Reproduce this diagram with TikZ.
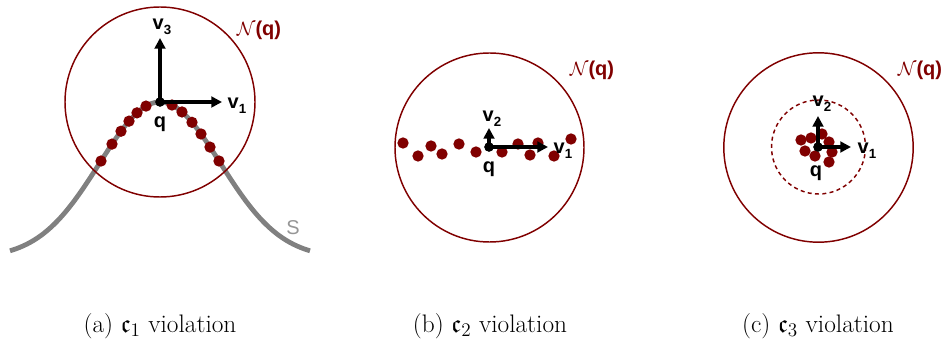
\documentclass[tikz,border=0pt]{standalone}
\usepackage{fontspec}
\setsansfont{Liberation Sans}
\usepackage{amssymb}
\usetikzlibrary{arrows.meta}
\definecolor{nbhd}{RGB}{128,0,0}
\definecolor{surf}{RGB}{128,128,128}
\definecolor{surflabel}{RGB}{150,150,150}
\newcommand{\basisv}[1]{\textbf{v}\raisebox{-0.5ex}{\fontsize{10}{10}\selectfont\textbf{#1}}}
\newcommand{\nbhdq}{$\mathcal{N}$(\textbf{q})}
\begin{document}
\begin{tikzpicture}[x=0.75pt, y=-0.75pt,
    font=\fontsize{15}{17}\selectfont\sffamily\bfseries,
    >={Triangle[length=8pt,width=8pt]},
    ring/.style={draw=nbhd, line width=1.1pt},
    pt/.style={circle, fill=nbhd, inner sep=0pt, minimum size=8.5pt},
    origin/.style={circle, fill=black, inner sep=0pt, minimum size=7pt},
    axis/.style={->, line width=2.5pt},
    caption/.style={font=\fontsize{19}{21}\selectfont\rmfamily\mdseries}]
  \useasboundingbox (0,0) rectangle (946,345);

  % (a) points on a curved surface
  \draw[surf, line width=3.6pt] plot[domain=10:310, samples=90, smooth]
    (\x, {258-156*exp(-((\x-160)/60.5)^2/2)});
  \foreach \x in {101,112,121,129,137,146,172,182,192,201,210,219}
    \node[pt] (pa\x) at (\x, {258-156*exp(-((\x-160)/60.5)^2/2)}) {};
  \draw[ring] (160,102) circle[radius=95];
  \coordinate (a1) at (222,102);
  \coordinate (a3) at (160,38);
  \node[origin] (qa) at (160,102) {};
  \draw[axis] (qa.center) -- (a1);
  \draw[axis] (qa.center) -- (a3);
  \node[origin] at (qa) {};
  \node (la1) at (237,106) {\basisv{1}};
  \node (la3) at (162,27) {\basisv{3}};
  \node (lqa) at (160,124) {q};
  \node[nbhd] (na) at (259,30) {\nbhdq};
  \node[surflabel, font=\fontsize{15}{17}\selectfont\sffamily] (sa) at (293,228) {S};

  % (b) points spread along a line
  \foreach \x/\y [count=\i] in {403/143,418/156,431/146,442/154,459/144,476/152,
      502/152,518/144,530/155,538/143,554/156,571/139}
    \node[pt] (pb\i) at (\x,\y) {};
  \draw[ring] (489.5,147.5) circle[radius=94.5];
  \coordinate (b1) at (548,147);
  \coordinate (b2) at (489,128);
  \node[origin] (qb) at (489,147) {};
  \draw[axis] (qb.center) -- (b1);
  \draw[axis] (qb.center) -- (b2);
  \node[origin] at (qb) {};
  \node (lb1) at (563,151) {\basisv{1}};
  \node (lb2) at (492,119) {\basisv{2}};
  \node (lqb) at (489,169) {q};
  \node[nbhd] (nb) at (592,70) {\nbhdq};

  % (c) points clustered at q
  \foreach \x/\y [count=\i] in {801/140,811/138,822/134,829/142,805/151,815/156,
      832/152,829/162}
    \node[pt] (pc\i) at (\x,\y) {};
  \draw[ring] (818.5,147.5) circle[radius=94.7];
  \draw[ring, dash pattern=on 3pt off 2.5pt] (818.5,147) circle[radius=47];
  \coordinate (c1) at (851,147);
  \coordinate (c2) at (818,116);
  \node[origin] (qc) at (818,147) {};
  \draw[axis] (qc.center) -- (c1);
  \draw[axis] (qc.center) -- (c2);
  \node[origin] at (qc) {};
  \node (lc1) at (867,151) {\basisv{1}};
  \node (lc2) at (822,104) {\basisv{2}};
  \node (lqc) at (816,173) {q};
  \node[nbhd] (nc) at (920,70) {\nbhdq};

  \node[caption] (capa) at (160,326) {(a) $\mathfrak{c}_1$ violation};
  \node[caption] (capb) at (490,326) {(b) $\mathfrak{c}_2$ violation};
  \node[caption] (capc) at (818,326) {(c) $\mathfrak{c}_3$ violation};
\end{tikzpicture}
\end{document}
